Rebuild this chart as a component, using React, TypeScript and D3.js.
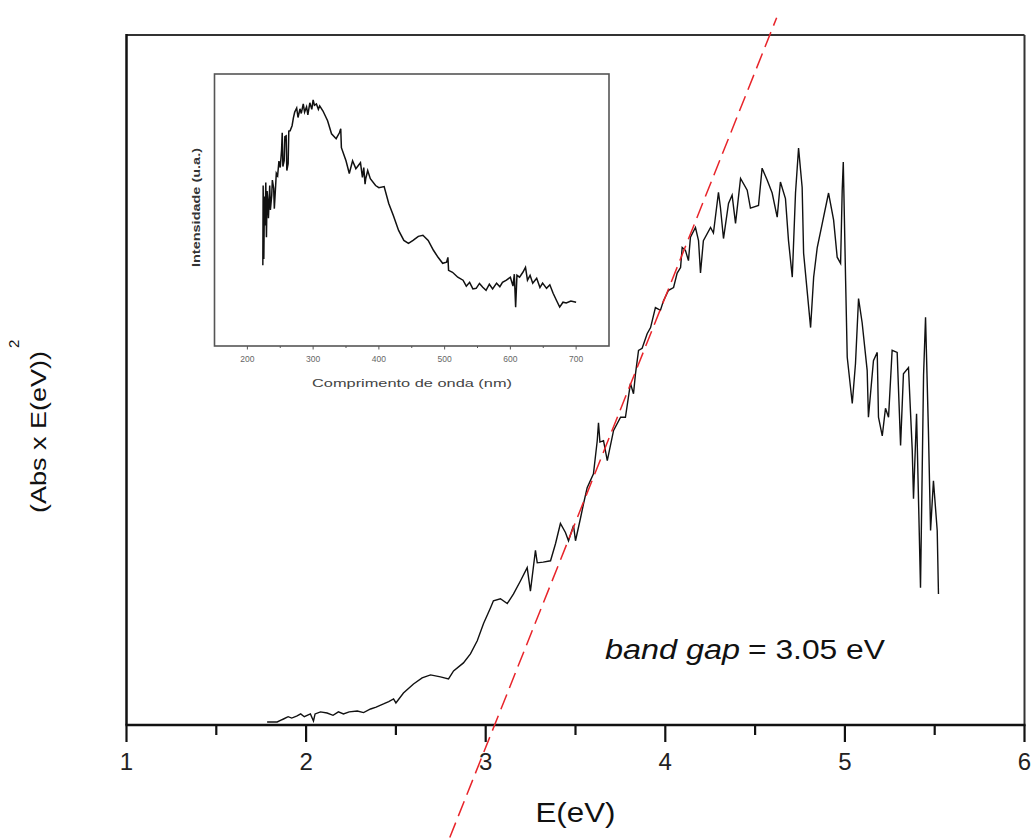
import React from "react";
import * as d3 from "d3";

// Main curve: photon energy (eV) and (Abs x E)^2 in arbitrary units
const mainE = [1.783, 1.839, 1.86, 1.874, 1.9, 1.92, 1.95, 1.97, 1.99, 2.024, 2.041, 2.05, 2.08, 2.117, 2.15, 2.18, 2.208, 2.24, 2.285, 2.32, 2.359, 2.39, 2.431, 2.46, 2.487, 2.5, 2.542, 2.598, 2.646, 2.693, 2.748, 2.793, 2.821, 2.876, 2.915, 2.953, 2.988, 3.027, 3.043, 3.082, 3.12, 3.155, 3.194, 3.231, 3.249, 3.277, 3.287, 3.32, 3.361, 3.389, 3.416, 3.444, 3.461, 3.489, 3.5, 3.528, 3.545, 3.565, 3.6, 3.621, 3.628, 3.636, 3.656, 3.677, 3.712, 3.751, 3.778, 3.806, 3.823, 3.834, 3.851, 3.871, 3.899, 3.918, 3.945, 3.973, 3.99, 4.018, 4.046, 4.066, 4.085, 4.094, 4.112, 4.129, 4.14, 4.168, 4.185, 4.196, 4.212, 4.252, 4.268, 4.296, 4.307, 4.324, 4.352, 4.372, 4.391, 4.419, 4.456, 4.474, 4.519, 4.539, 4.567, 4.595, 4.623, 4.641, 4.669, 4.686, 4.707, 4.725, 4.742, 4.762, 4.77, 4.809, 4.826, 4.846, 4.874, 4.909, 4.937, 4.957, 4.976, 4.985, 4.991, 5.004, 5.013, 5.041, 5.059, 5.076, 5.096, 5.124, 5.131, 5.159, 5.18, 5.187, 5.208, 5.226, 5.243, 5.263, 5.291, 5.31, 5.326, 5.354, 5.375, 5.382, 5.399, 5.421, 5.438, 5.449, 5.465, 5.477, 5.493, 5.514, 5.521];
const mainV = [0.44, 0.44, 0.7, 0.87, 1.2, 1.0, 1.31, 1.6, 1.2, 1.6, 0.58, 1.6, 1.9, 1.74, 1.4, 1.9, 1.6, 1.9, 2.03, 1.8, 2.32, 2.6, 3.05, 3.4, 3.77, 3.2, 4.64, 5.95, 6.82, 7.26, 6.97, 6.68, 7.84, 9.0, 10.3, 12.2, 14.7, 17.0, 18.0, 18.3, 17.6, 19.0, 20.9, 22.8, 19.4, 25.3, 23.5, 23.6, 23.8, 26.3, 29.2, 27.9, 26.7, 28.9, 26.7, 30.0, 32.1, 34.4, 36.4, 41.2, 43.8, 41.0, 41.2, 38.3, 42.7, 44.6, 44.6, 49.5, 48.0, 50.9, 54.3, 54.6, 56.7, 57.6, 60.5, 60.1, 61.5, 63.0, 63.4, 65.5, 66.3, 69.2, 68.8, 67.3, 70.7, 72.1, 70.2, 65.5, 70.2, 72.1, 71.3, 77.2, 75.0, 70.5, 75.6, 76.8, 72.7, 79.2, 77.5, 74.9, 75.3, 80.7, 79.0, 77.1, 73.6, 78.7, 76.3, 70.2, 64.9, 77.1, 83.6, 77.9, 68.4, 57.6, 64.9, 69.2, 72.7, 77.1, 73.2, 67.8, 66.9, 77.5, 81.6, 64.4, 53.3, 46.6, 52.4, 61.8, 58.3, 51.4, 44.6, 52.8, 54.0, 44.6, 41.9, 45.9, 44.6, 54.3, 54.0, 40.5, 50.9, 51.8, 39.8, 32.8, 45.1, 19.9, 50.7, 59.1, 42.7, 28.2, 35.4, 28.2, 19.0];

// Tangent line (band gap extrapolation)
const tangentE = [2.8, 4.62];
const tangentV = [-16.3, 102.5];

// Inset: wavelength (nm) vs intensity (a.u.)
const insetNm = [223.5, 224, 225, 226, 227, 228, 229, 230, 231, 232, 234, 235, 237, 238, 240, 241, 243, 244, 246, 248, 250, 252, 253, 254, 256, 257, 259, 260, 262, 263, 265, 268, 270, 272, 275, 277, 280, 282, 285, 287, 290, 292, 295, 298, 300, 302, 305, 308, 310, 315, 322, 328, 335, 340, 342, 343, 350, 355, 360, 365, 372, 375, 377, 379, 380, 383, 387, 395, 400, 408, 415, 422, 430, 438, 445, 452, 460, 467, 475, 483, 490, 497, 503, 505, 506, 512, 520, 528, 533, 538, 543, 548, 553, 558, 563, 568, 573, 579, 584, 588, 594, 600, 604, 606, 608, 610, 614, 619, 623, 626, 630, 634, 640, 645, 649, 655, 660, 665, 670, 675, 680, 685, 692, 700];
const insetV = [29.7, 59.0, 32.0, 55.0, 44.3, 60.1, 40.0, 57.0, 53.5, 47.0, 59.0, 50.0, 55.3, 61.0, 58.0, 50.5, 59.0, 63.5, 62.6, 68.0, 65.6, 72.0, 78.4, 66.0, 68.1, 77.0, 77.3, 64.5, 67.0, 79.0, 79.1, 81.0, 83.9, 86.0, 87.5, 84.0, 87.2, 85.5, 89.0, 86.0, 87.9, 85.0, 89.4, 87.0, 90.5, 88.5, 89.0, 87.0, 88.3, 86.4, 82.8, 78.0, 76.2, 78.4, 79.9, 72.9, 68.1, 63.4, 68.1, 65.2, 67.4, 62.0, 65.6, 59.5, 61.5, 64.5, 61.5, 59.0, 58.2, 58.6, 52.4, 48.0, 42.5, 38.8, 37.7, 38.8, 40.3, 40.7, 38.8, 35.2, 32.6, 30.4, 30.8, 32.6, 27.8, 27.1, 25.3, 24.2, 22.0, 23.4, 21.0, 21.2, 23.0, 21.6, 20.5, 22.7, 21.0, 23.1, 21.8, 23.4, 24.2, 25.3, 22.0, 26.4, 14.3, 26.0, 25.3, 27.1, 28.9, 24.2, 26.0, 23.1, 24.9, 21.5, 23.1, 21.2, 22.5, 19.4, 16.8, 14.3, 16.1, 15.8, 16.5, 16.1];

const xMajor = [1, 2, 3, 4, 5, 6];
const xMinor = [1.5, 2.5, 3.5, 4.5, 5.5];
const insetMajor = [200, 300, 400, 500, 600, 700];
const insetMinor = [250, 350, 450, 550, 650];

const FONT = "'Liberation Sans', Arial, sans-serif";

export default function App() {
  const x = d3.scaleLinear().domain([1, 6]).range([126.5, 1024.5]);
  const y = d3.scaleLinear().domain([0, 100]).range([725, 35]);
  const ix = d3.scaleLinear().domain([150, 750]).range([214.5, 609]);
  const iy = d3.scaleLinear().domain([0, 100]).range([346, 74]);

  const mainPts = mainE.map((e, i) => [e, mainV[i]] as [number, number]);
  const insetPts = insetNm.map((n, i) => [n, insetV[i]] as [number, number]);
  const line = d3.line<[number, number]>().x((d) => x(d[0])).y((d) => y(d[1]));
  const iline = d3.line<[number, number]>().x((d) => ix(d[0])).y((d) => iy(d[1]));
  const tangentPts = tangentE.map((e, i) => [e, tangentV[i]] as [number, number]);

  const y0 = y(0);
  const x0 = x(1), x1 = x(6), yTop = y(100);

  return (
    <svg width={1034} height={839} style={{ position: "absolute", left: 0, top: 0, background: "#fff" }} fontFamily={FONT}>
      <rect width={1034} height={839} fill="#fff" />
      {/* main frame */}
      <line x1={x0} x2={x1} y1={yTop} y2={yTop} stroke="#333" strokeWidth={2} />
      <line x1={x1} x2={x1} y1={yTop} y2={y0} stroke="#333" strokeWidth={2} />
      <line x1={x0} x2={x0} y1={yTop - 1} y2={y0} stroke="#111" strokeWidth={2.5} />
      <line x1={x0 - 1} x2={x1 + 1} y1={y0} y2={y0} stroke="#111" strokeWidth={2.5} />
      {xMajor.map((t) => (
        <g key={"M" + t}>
          <line x1={x(t)} x2={x(t)} y1={y0} y2={y0 + 17} stroke="#111" strokeWidth={2.2} />
          <text x={x(t)} y={770} textAnchor="middle" fontSize={24} fill="#222">{t}</text>
        </g>
      ))}
      {xMinor.map((t) => (
        <line key={"m" + t} x1={x(t)} x2={x(t)} y1={y0} y2={y0 + 10} stroke="#111" strokeWidth={2.2} />
      ))}
      <text x={x(3.5)} y={822} textAnchor="middle" fontSize={28} fill="#111" textLength={80} lengthAdjust="spacingAndGlyphs">E(eV)</text>
      <text transform="translate(46,513) rotate(-90)" fontSize={22} fill="#111" textLength={162} lengthAdjust="spacingAndGlyphs">(Abs x E(eV))</text>
      <text transform="translate(19,348) rotate(-90)" fontSize={15} fill="#111">2</text>

      {/* main curve */}
      <path d={line(mainPts) || ""} fill="none" stroke="#111" strokeWidth={1.4} strokeLinejoin="miter" />

      {/* tangent */}
      <path d={line(tangentPts) || ""} fill="none" stroke="#e8242a" strokeWidth={1.5} strokeDasharray="16 7" />

      <text x={605} y={659} fontSize={27} fontStyle="italic" fill="#111" textLength={135} lengthAdjust="spacingAndGlyphs">band gap</text>
      <text x={748} y={659} fontSize={27} fill="#111" textLength={137} lengthAdjust="spacingAndGlyphs">= 3.05 eV</text>

      {/* inset */}
      <rect x={ix(150)} y={iy(100)} width={ix(750) - ix(150)} height={iy(0) - iy(100)} fill="#fff" stroke="#555" strokeWidth={1.6} />
      {insetMajor.map((t) => (
        <g key={"I" + t}>
          <line x1={ix(t)} x2={ix(t)} y1={iy(0)} y2={iy(0) + 3.5} stroke="#555" strokeWidth={1} />
          <text x={ix(t)} y={362} textAnchor="middle" fontSize={8.5} fill="#666">{t}</text>
        </g>
      ))}
      {insetMinor.map((t) => (
        <line key={"i" + t} x1={ix(t)} x2={ix(t)} y1={iy(0)} y2={iy(0) + 2} stroke="#555" strokeWidth={1} />
      ))}
      <path d={iline(insetPts) || ""} fill="none" stroke="#111" strokeWidth={1.5} />
      <text x={312} y={387} fontSize={11} fill="#444" textLength={200} lengthAdjust="spacingAndGlyphs">Comprimento de onda (nm)</text>
      <text transform="translate(200,267) rotate(-90)" fontSize={11.5} fontWeight="bold" fill="#333" textLength={119} lengthAdjust="spacingAndGlyphs">Intensidade (u.a.)</text>
    </svg>
  );
}
